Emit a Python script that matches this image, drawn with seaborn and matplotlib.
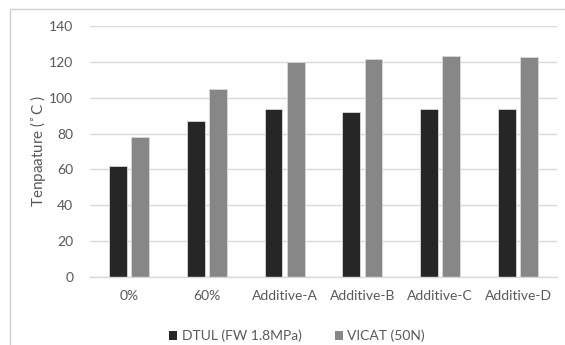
import matplotlib
matplotlib.use("Agg")
import matplotlib.pyplot as plt
import seaborn as sns
import pandas as pd
from matplotlib.patches import Rectangle

categories = ["0%", "60%", "Additive-A", "Additive-B", "Additive-C", "Additive-D"]
dtul = [61.8, 87.1, 93.9, 92.2, 93.5, 93.9]
vicat = [78.2, 104.8, 119.8, 121.4, 123.5, 122.6]
series_names = ["DTUL (FW 1.8MPa)", "VICAT (50N)"]
y_ticks = [0, 20, 40, 60, 80, 100, 120, 140]

df = pd.DataFrame({
    "cat": categories * 2,
    "val": dtul + vicat,
    "series": [series_names[0]] * len(categories) + [series_names[1]] * len(categories),
})

sns.set_theme(style="white")
plt.rcParams["font.family"] = ["Lato", "DejaVu Sans"]
text_col = "#595959"

fig = plt.figure(figsize=(5.65, 3.45), dpi=100)
ax = fig.add_axes([90 / 565, 1 - 277 / 345, (557 - 90) / 565, (277 - 26) / 345])

sns.barplot(data=df, x="cat", y="val", hue="series", order=categories,
            hue_order=series_names, palette=["#262626", "#878787"],
            width=0.57, gap=0.2, edgecolor="#d9d9d9", linewidth=0.6,
            ax=ax, legend=True)

ax.set_ylim(0, 140)
ax.set_yticks(y_ticks)
ax.set_xlim(-0.5, len(categories) - 0.5)
ax.yaxis.grid(True, color="#d9d9d9", linewidth=1.0)
ax.set_axisbelow(True)
for s in ["top", "right", "left"]:
    ax.spines[s].set_visible(False)
ax.spines["bottom"].set_color("#d9d9d9")
ax.spines["bottom"].set_linewidth(1.0)
ax.tick_params(axis="both", length=0, labelsize=10, colors=text_col, pad=9)
ax.tick_params(axis="y", pad=12)
ax.set_xlabel("")
ax.set_ylabel("Tenpaature ($^{\\circ}$C )", fontsize=11, color=text_col)
ax.yaxis.set_label_coords(-42 / 467, 0.5)

leg = ax.legend(loc="center", bbox_to_anchor=(297 / 565, 1 - 336 / 345),
                bbox_transform=fig.transFigure, ncol=2, frameon=False,
                fontsize=10, handlelength=0.6, handleheight=0.6,
                handletextpad=0.3, columnspacing=2.4)
for t in leg.get_texts():
    t.set_color(text_col)
for h in leg.legend_handles:
    h.set_edgecolor("none")

# chart frame
fig.patches.append(Rectangle((10 / 565, -0.1), 1.2, 1 - 9 / 345 + 0.1,
                             transform=fig.transFigure, fill=False,
                             edgecolor="#d0d0d0", linewidth=1.0))

fig.savefig("out.png", dpi=100, facecolor="white")
